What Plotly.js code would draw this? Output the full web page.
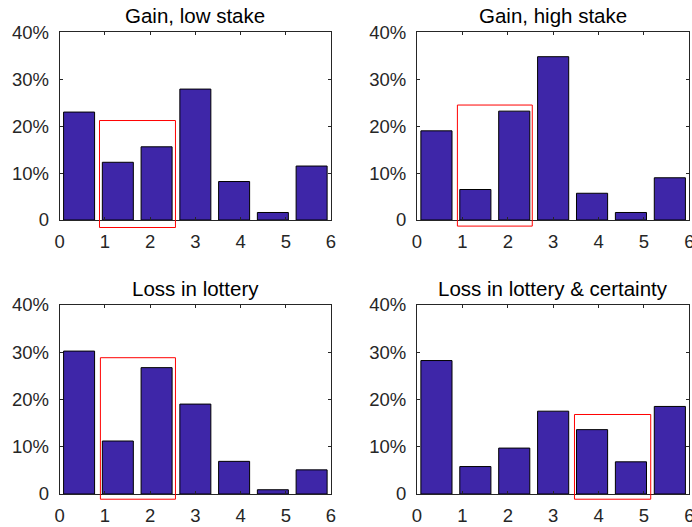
<!DOCTYPE html>
<html>
<head>
<meta charset="utf-8">
<script src="https://cdn.plot.ly/plotly-3.0.1.min.js"></script>
<style>html,body{margin:0;padding:0;background:#fff;}#chart{width:692px;height:527px;}</style>
</head>
<body>
<div id="chart"></div>
<script>
// ---- data ----
const panelTitles = ["Gain, low stake", "Gain, high stake", "Loss in lottery", "Loss in lottery & certainty"];
const gainLow   = [23.0, 12.3, 15.6, 27.9, 8.2, 1.6, 11.5];
const gainHigh  = [19.0, 6.5, 23.2, 34.8, 5.7, 1.6, 9.0];
const lossLot   = [30.2, 11.2, 26.7, 19.0, 6.9, 0.9, 5.1];
const lossLotCert = [28.2, 5.8, 9.7, 17.5, 13.6, 6.8, 18.5];
const xTickVals = [0, 1, 2, 3, 4, 5, 6];
const yTickVals = [0, 10, 20, 30, 40];
const yTickText = ["0", "10%", "20%", "30%", "40%"];
const histRange = [0, 6];
const nBins = 7;
// highlight boxes (data units) per panel
const boxX0 = [0.88, 0.89, 0.9, 3.47];
const boxX1 = [2.56, 2.54, 2.56, 5.15];
const boxY0 = [-1.6, -1.3, -1.1, -1.1];
const boxY1 = [21.2, 24.5, 28.8, 16.8];

const seriesList = [gainLow, gainHigh, lossLot, lossLotCert];
const binW = (histRange[1] - histRange[0]) / nBins;
const binCenters = Array.from({length: nBins}, (_, i) => histRange[0] + (i + 0.5) * binW);

const W = 692, H = 527;
const xDomPx = [[59.7, 331], [417, 689.3]];
const yDomPx = [[32.3, 220], [304.7, 494]];
const xDom = xDomPx.map(d => [d[0] / W, d[1] / W]);
const yDom = yDomPx.map(d => [1 - d[1] / H, 1 - d[0] / H]);

const fontFam = '"Liberation Sans", Arial, sans-serif';
const axColor = '#262626';

const traces = [];
const layout = {
  width: W, height: H,
  margin: {l: 0, r: 0, t: 0, b: 0},
  paper_bgcolor: '#fff', plot_bgcolor: '#fff',
  showlegend: false,
  font: {family: fontFam, size: 18.5, color: axColor},
  bargap: 0.2,
  shapes: [], annotations: []
};

for (let p = 0; p < 4; p++) {
  const col = p % 2, row = Math.floor(p / 2);
  const sfx = p === 0 ? '' : String(p + 1);
  traces.push({
    type: 'bar', x: binCenters, y: seriesList[p],
    width: binW * 0.8,
    xaxis: 'x' + sfx, yaxis: 'y' + sfx,
    marker: {color: '#3E26A8', line: {color: '#000', width: 1}},
    hoverinfo: 'skip'
  });
  const common = {
    showline: true, mirror: 'ticks', linecolor: axColor, linewidth: 1,
    ticks: 'inside', ticklen: 3, tickcolor: axColor, tickwidth: 1,
    showgrid: false, zeroline: false, fixedrange: true,
    ticklabeloverflow: 'allow',
    tickfont: {family: fontFam, size: 18.5, color: axColor}
  };
  layout['xaxis' + sfx] = Object.assign({}, common, {
    domain: xDom[col], range: histRange, tickmode: 'array', tickvals: xTickVals,
    anchor: 'y' + sfx, ticklabelstandoff: 5
  });
  layout['yaxis' + sfx] = Object.assign({}, common, {
    domain: yDom[row], range: [0, 40], tickmode: 'array', tickvals: yTickVals, ticktext: yTickText,
    anchor: 'x' + sfx, ticklabelstandoff: 6
  });
  const fx = v => (v - histRange[0]) / (histRange[1] - histRange[0]);
  const fy = v => v / 40;
  layout.shapes.push({
    type: 'rect', layer: 'above',
    xref: 'x' + sfx + ' domain', yref: 'y' + sfx + ' domain',
    x0: fx(boxX0[p]), x1: fx(boxX1[p]), y0: fy(boxY0[p]), y1: fy(boxY1[p]),
    line: {color: '#FF0000', width: 1}, fillcolor: 'rgba(0,0,0,0)'
  });
  layout.annotations.push({
    text: panelTitles[p], showarrow: false,
    xref: 'paper', yref: 'paper',
    x: (xDom[col][0] + xDom[col][1]) / 2, xanchor: 'center',
    y: yDom[row][1], yanchor: 'bottom', yshift: 3,
    font: {family: fontFam, size: 20.5, color: '#000'}
  });
}

Plotly.newPlot('chart', traces, layout, {displayModeBar: false, staticPlot: true});
</script>
</body>
</html>
